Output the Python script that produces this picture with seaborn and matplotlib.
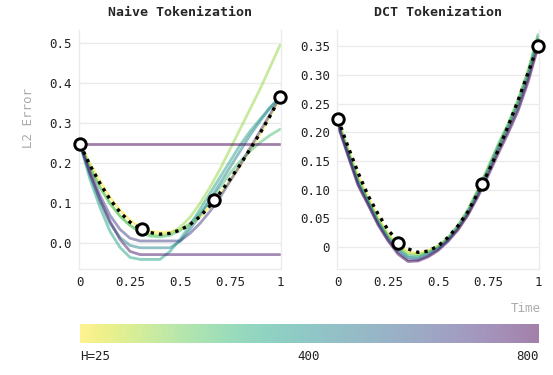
import numpy as np
import pandas as pd
import seaborn as sns
import matplotlib.pyplot as plt
import matplotlib as mpl

# time grid shared by every curve
t = [0, 0.05, 0.1, 0.15, 0.2, 0.25, 0.3, 0.35, 0.4, 0.45, 0.5,
     0.55, 0.6, 0.65, 0.7, 0.75, 0.8, 0.85, 0.9, 0.95, 1.0]

# ground truth (dotted) for each panel
naiveTruth = [0.248, 0.195, 0.15, 0.11, 0.078, 0.053, 0.037, 0.027, 0.023, 0.025, 0.033,
              0.047, 0.067, 0.094, 0.126, 0.16, 0.196, 0.235, 0.275, 0.318, 0.365]
dctTruth = [0.223, 0.175, 0.13, 0.09, 0.058, 0.03, 0.01, -0.003, -0.009, -0.007, 0.002,
            0.017, 0.037, 0.062, 0.095, 0.13, 0.168, 0.21, 0.255, 0.303, 0.352]

# token sample points (circles)
naiveTokT = [0, 0.31, 0.67, 1.0]
naiveTokY = [0.248, 0.035, 0.108, 0.365]
dctTokT = [0, 0.30, 0.72, 1.0]
dctTokY = [0.223, 0.007, 0.11, 0.35]

naiveH = [25, 150, 250, 350, 450, 650, 750, 800]
naiveCurves = [
    [0.248, 0.2, 0.155, 0.115, 0.083, 0.058, 0.04, 0.03, 0.027, 0.028, 0.034,
     0.047, 0.066, 0.092, 0.122, 0.156, 0.193, 0.232, 0.273, 0.317, 0.363],
    [0.248, 0.19, 0.14, 0.1, 0.068, 0.045, 0.03, 0.022, 0.02, 0.025, 0.04,
     0.065, 0.1, 0.14, 0.185, 0.235, 0.285, 0.335, 0.385, 0.44, 0.495],
    [0.248, 0.19, 0.14, 0.1, 0.068, 0.045, 0.028, 0.018, 0.016, 0.02, 0.032,
     0.05, 0.075, 0.105, 0.14, 0.175, 0.205, 0.23, 0.252, 0.27, 0.285],
    [0.248, 0.16, 0.09, 0.03, -0.01, -0.035, -0.04, -0.04, -0.04, -0.02, 0.01,
     0.045, 0.085, 0.125, 0.165, 0.205, 0.245, 0.28, 0.31, 0.34, 0.365],
    [0.248, 0.17, 0.105, 0.05, 0.015, -0.005, -0.011, -0.011, -0.011, -0.011, 0.005,
     0.035, 0.07, 0.11, 0.15, 0.19, 0.23, 0.27, 0.305, 0.338, 0.365],
    [0.248, 0.18, 0.12, 0.07, 0.035, 0.013, 0.006, 0.006, 0.006, 0.006, 0.006,
     0.025, 0.05, 0.08, 0.115, 0.155, 0.195, 0.238, 0.28, 0.322, 0.365],
    [0.248, 0.175, 0.11, 0.055, 0.01, -0.02, -0.028, -0.028, -0.028, -0.028, -0.028,
     -0.028, -0.028, -0.028, -0.028, -0.028, -0.028, -0.028, -0.028, -0.028, -0.028],
    [0.248, 0.248, 0.248, 0.248, 0.248, 0.248, 0.248, 0.248, 0.248, 0.248, 0.248,
     0.248, 0.248, 0.248, 0.248, 0.248, 0.248, 0.248, 0.248, 0.248, 0.248],
]

dctH = [25, 150, 300, 450, 600, 800]
dctCurves = [
    [0.222, 0.172, 0.125, 0.088, 0.053, 0.024, 0.004, -0.008, -0.011, -0.006, 0.002,
     0.015, 0.033, 0.059, 0.094, 0.132, 0.171, 0.208, 0.25, 0.3, 0.358],
    [0.219, 0.169, 0.119, 0.083, 0.048, 0.021, 0.001, -0.011, -0.013, -0.008, 0.002,
     0.017, 0.038, 0.066, 0.101, 0.139, 0.178, 0.215, 0.257, 0.308, 0.366],
    [0.217, 0.166, 0.116, 0.081, 0.046, 0.018, -0.002, -0.015, -0.016, -0.01, 0.0,
     0.015, 0.037, 0.064, 0.099, 0.137, 0.177, 0.213, 0.254, 0.305, 0.37],
    [0.215, 0.164, 0.113, 0.079, 0.044, 0.016, -0.005, -0.018, -0.019, -0.012, -0.002,
     0.013, 0.034, 0.061, 0.095, 0.133, 0.173, 0.209, 0.249, 0.299, 0.362],
    [0.213, 0.161, 0.11, 0.076, 0.041, 0.013, -0.009, -0.022, -0.022, -0.015, -0.004,
     0.012, 0.032, 0.058, 0.091, 0.128, 0.167, 0.203, 0.242, 0.292, 0.354],
    [0.211, 0.159, 0.108, 0.074, 0.039, 0.011, -0.012, -0.025, -0.024, -0.017, -0.006,
     0.01, 0.03, 0.056, 0.088, 0.124, 0.162, 0.198, 0.237, 0.287, 0.348],
]

def toLong(hList, curves):
    rows = []
    for h, c in zip(hList, curves):
        for ti, v in zip(t, c):
            rows.append({'Time': ti, 'err': v, 'H': h})
    return pd.DataFrame(rows)

sns.set_style('white')
plt.rcParams['font.family'] = ['DejaVu Sans Mono']
cmap = mpl.colormaps['viridis_r']
hueNorm = (25, 800)
lineAlpha = 0.5
gridCol = '#ebebeb'

fig = plt.figure(figsize=(5.53, 3.75), dpi=100)
W, H = 553, 375
def axBox(x0, y0, x1, y1):
    return [x0 / W, 1 - y1 / H, (x1 - x0) / W, (y1 - y0) / H]

axL = fig.add_axes(axBox(79, 30, 281, 269))
axR = fig.add_axes(axBox(337, 30, 539, 269))
axC = fig.add_axes(axBox(80, 324, 539, 343))

panels = [
    (axL, naiveH, naiveCurves, naiveTruth, naiveTokT, naiveTokY, 'Naive Tokenization',
     (-0.064, 0.533), [0, 0.1, 0.2, 0.3, 0.4, 0.5], ['0.0', '0.1', '0.2', '0.3', '0.4', '0.5']),
    (axR, dctH, dctCurves, dctTruth, dctTokT, dctTokY, 'DCT Tokenization',
     (-0.038, 0.378), [0, 0.05, 0.1, 0.15, 0.2, 0.25, 0.3, 0.35],
     ['0', '0.05', '0.10', '0.15', '0.20', '0.25', '0.30', '0.35']),
]

for ax, hList, curves, truth, tokT, tokY, title, ylim, yt, ytl in panels:
    df = toLong(hList, curves)
    sns.lineplot(data=df, x='Time', y='err', hue='H', palette=cmap, hue_norm=hueNorm,
                 alpha=lineAlpha, linewidth=2, legend=False, ax=ax, zorder=2)
    ax.plot(t, truth, color='black', linestyle=(0, (1, 1.5)), linewidth=2.4, zorder=3)
    ax.scatter(tokT, tokY, s=68, facecolor='white', edgecolor='black', linewidth=2.1,
               zorder=4, clip_on=False)
    ax.set_xlim(-0.005, 1.005)
    ax.set_ylim(*ylim)
    ax.set_yticks(yt)
    ax.set_yticklabels(ytl)
    ax.set_xticks([0, 0.25, 0.5, 0.75, 1])
    ax.set_xticklabels(['0', '0.25', '0.5', '0.75', '1'])
    ax.tick_params(length=0, labelsize=9, pad=5, colors='#222222')
    ax.grid(axis='y', color=gridCol, linewidth=1)
    for s in ['left', 'bottom', 'right']:
        ax.spines[s].set_color(gridCol)
        ax.spines[s].set_linewidth(1)
    ax.spines['top'].set_visible(False)
    ax.set_xlabel('')
    ax.set_ylabel('')
    ax.set_title(title, fontsize=9.5, fontweight='bold', pad=10)

axL.set_ylabel('L2 Error', color='#aaaaaa', fontsize=9)
axL.yaxis.set_label_coords(-0.22, 0.63)
axR.set_xlabel('Time', color='#aaaaaa', fontsize=9)
axR.xaxis.set_label_coords(1.01, -0.14)
axR.xaxis.label.set_horizontalalignment('right')

# colorbar strip
grad = np.linspace(0, 1, 256).reshape(1, -1)
axC.imshow(grad, aspect='auto', cmap=cmap, alpha=lineAlpha, extent=[25, 800, 0, 1])
axC.set_xticks([])
axC.set_yticks([])
for s in axC.spines.values():
    s.set_visible(False)
fig.text(80 / W, 1 - 357 / H, 'H=25', fontsize=9, ha='left', va='center', color='#222222')
fig.text(309 / W, 1 - 357 / H, '400', fontsize=9, ha='center', va='center', color='#222222')
fig.text(539 / W, 1 - 357 / H, '800', fontsize=9, ha='right', va='center', color='#222222')

fig.savefig('out.png', dpi=100)
